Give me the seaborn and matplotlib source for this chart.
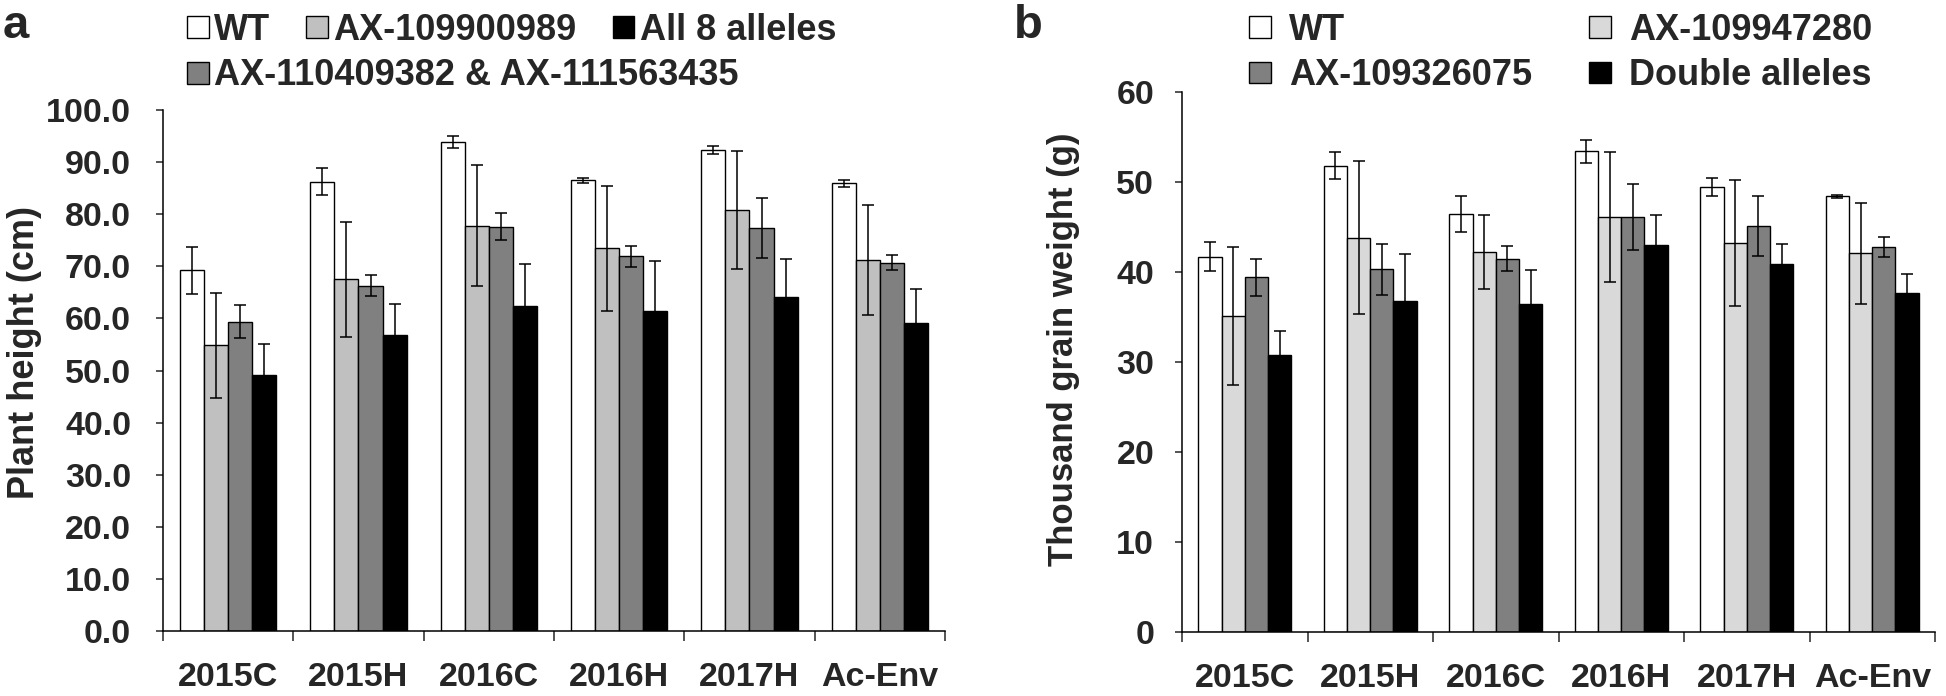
import numpy as np
import pandas as pd
import matplotlib
matplotlib.use('Agg')
import matplotlib.pyplot as plt
import seaborn as sns

envs = ['2015C', '2015H', '2016C', '2016H', '2017H', 'Ac-Env']

# panel a - plant height (cm)
groups_a = ['WT', 'AX-109900989', 'AX-110409382 & AX-111563435', 'All 8 alleles']
wt_a = [69.2, 86.2, 93.9, 86.5, 92.3, 85.9]
wt_a_err = [4.5, 2.6, 1.1, 0.5, 0.8, 0.6]
ax1099_a = [54.8, 67.5, 77.8, 73.5, 80.8, 71.2]
ax1099_a_err = [10.0, 11.0, 11.6, 12.0, 11.4, 10.5]
ax1104_a = [59.4, 66.3, 77.6, 71.9, 77.4, 70.7]
ax1104_a_err = [3.2, 2.0, 2.6, 2.0, 5.8, 1.5]
all8_a = [49.1, 56.8, 62.4, 61.5, 64.1, 59.1]
all8_a_err = [6.0, 6.0, 8.0, 9.5, 7.3, 6.6]

# panel b - thousand grain weight (g)
groups_b = ['WT', 'AX-109947280', 'AX-109326075', 'Double alleles']
wt_b = [41.7, 51.8, 46.5, 53.4, 49.5, 48.4]
wt_b_err = [1.6, 1.5, 2.0, 1.3, 1.0, 0.15]
ax1099_b = [35.1, 43.8, 42.2, 46.1, 43.2, 42.1]
ax1099_b_err = [7.7, 8.5, 4.1, 7.2, 7.0, 5.6]
ax1093_b = [39.4, 40.3, 41.5, 46.1, 45.1, 42.8]
ax1093_b_err = [2.1, 2.8, 1.4, 3.7, 3.3, 1.1]
double_b = [30.8, 36.8, 36.4, 43.0, 40.9, 37.7]
double_b_err = [2.7, 5.2, 3.8, 3.3, 2.2, 2.1]

sns.set_style('ticks')
plt.rcParams['font.family'] = ['Liberation Sans', 'DejaVu Sans']
plt.rcParams['font.weight'] = 'bold'
plt.rcParams['axes.labelweight'] = 'bold'


def long_table(groups, series, errs):
    rows = []
    for g, vals, es in zip(groups, series, errs):
        for env, v, e in zip(envs, vals, es):
            rows.append({'env': env, 'group': g, 'value': v, 'err': e})
    return pd.DataFrame(rows)


def draw_panel(ax, df, groups, colors):
    sns.barplot(data=df, x='env', y='value', hue='group', order=envs,
                hue_order=groups, palette=colors, edgecolor='black',
                linewidth=1.0, width=0.74, errorbar=None, legend=False, ax=ax)
    bars = list(ax.containers)
    for cont, g in zip(bars, groups):
        sub = df[df['group'] == g].set_index('env').loc[envs]
        xs = [p.get_x() + p.get_width() / 2 for p in cont.patches]
        ys = [p.get_height() for p in cont.patches]
        ax.errorbar(xs, ys, yerr=sub['err'].values, fmt='none', ecolor='black',
                    elinewidth=1.1, capsize=4, capthick=1.1)
    ax.set_xlim(-0.5, 5.5)
    ax.set_xlabel('')
    ax.set_xticks(np.arange(-0.5, 6, 1), minor=True)
    ax.tick_params(axis='x', which='major', length=0, pad=22, labelsize=24.5)
    ax.tick_params(axis='x', which='minor', length=7, width=1.1, direction='out')
    ax.tick_params(axis='y', length=5, width=1.1, labelsize=24.5)
    for s in ['left', 'bottom']:
        ax.spines[s].set_linewidth(1.1)
        ax.spines[s].set_color('black')
    sns.despine(ax=ax)
    return bars


fig = plt.figure(figsize=(19.46, 6.96), dpi=100)
ax1 = fig.add_axes([0.08376, 0.09339, 0.40185, 0.74856])
ax2 = fig.add_axes([0.6074, 0.09195, 0.38695, 0.77586])

df_a = long_table(groups_a, [wt_a, ax1099_a, ax1104_a, all8_a],
                  [wt_a_err, ax1099_a_err, ax1104_a_err, all8_a_err])
bars_a = draw_panel(ax1, df_a, groups_a, ['white', '#c0c0c0', '#808080', 'black'])
ax1.set_ylim(0, 100)
ax1.set_yticks(np.arange(0, 101, 10))
ax1.set_yticklabels([f'{v:.1f}' for v in np.arange(0, 101, 10)])
ax1.tick_params(axis='y', pad=18)
ax1.set_ylabel('Plant height (cm)', fontsize=26)
ax1.yaxis.set_label_coords(-0.155, 0.534)

df_b = long_table(groups_b, [wt_b, ax1099_b, ax1093_b, double_b],
                  [wt_b_err, ax1099_b_err, ax1093_b_err, double_b_err])
bars_b = draw_panel(ax2, df_b, groups_b, ['white', '#d9d9d9', '#808080', 'black'])
ax2.set_ylim(0, 60)
ax2.set_yticks(np.arange(0, 61, 10))
ax2.tick_params(axis='y', pad=15)
ax2.set_ylabel('Thousand grain weight (g)', fontsize=25)
ax2.yaxis.set_label_coords(-0.1355, 0.524)

leg_kw = dict(frameon=False, fontsize=26, borderpad=0, borderaxespad=0,
              handlelength=0.6, handleheight=0.55, loc='upper left')

# legend a: three in the first row, the long one below
fig.legend([bars_a[0], bars_a[1], bars_a[3]],
           [groups_a[0], groups_a[1], groups_a[3]], ncol=3,
           bbox_to_anchor=(187 / 1946, 0.982), handletextpad=0.15,
           columnspacing=1.0, **leg_kw)
fig.legend([bars_a[2]], [groups_a[2]], bbox_to_anchor=(187 / 1946, 0.916),
           handletextpad=0.15, **leg_kw)

fig.legend([bars_b[0], bars_b[2], bars_b[1], bars_b[3]],
           [groups_b[0], groups_b[2], groups_b[1], groups_b[3]], ncol=2,
           bbox_to_anchor=(1249 / 1946, 0.982), handletextpad=0.5,
           columnspacing=1.58, labelspacing=0.3, **leg_kw)

fig.text(0.0015, 0.9454, 'a', fontsize=34, fontweight='bold', va='baseline')
fig.text(0.521, 0.9454, 'b', fontsize=34, fontweight='bold', va='baseline')

fig.savefig('out.png', dpi=100)
